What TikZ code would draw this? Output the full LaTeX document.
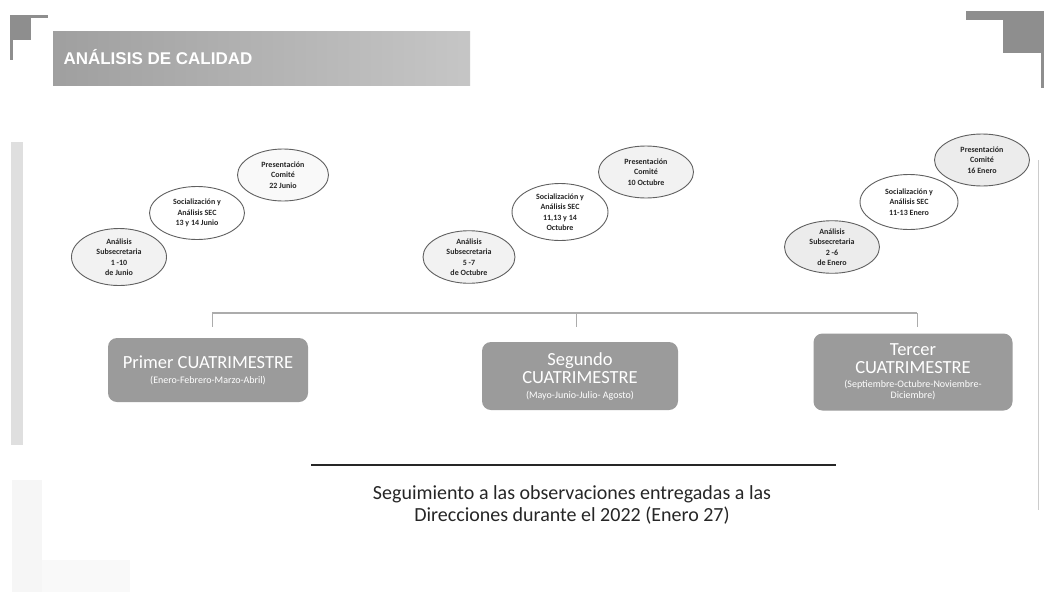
\documentclass[tikz,border=0pt]{standalone}
\usepackage{fontspec}
\setmainfont{Carlito}
\newfontfamily\arialfont{Liberation Sans}
\usetikzlibrary{shapes.geometric}

\definecolor{grisCaja}{HTML}{9B9B9B}
\definecolor{grisMarco}{HTML}{8E8E8E}
\newcommand\mesesfont{\fontsize{10}{11}\selectfont}

\tikzstyle{every node}=[font=\normalsize]
\tikzstyle{elipse}=[ellipse, draw=gray!75!black, line width=0.9pt, fill=gray!10, inner sep=0pt, align=center, text=black!85, font=\fontsize{8}{10.5}\selectfont\bfseries]
\tikzstyle{cuatri}=[rectangle, rounded corners=9pt, fill=grisCaja, text=white, align=center, inner sep=0pt, font=\fontsize{18.5}{18}\selectfont]
\tikzstyle{linea}=[draw=gray!65, line width=1.5pt]

\begin{document}
\begin{tikzpicture}[x=1pt, y=-1pt]
    \useasboundingbox[fill=white] (0,0) rectangle (1044,592);

    % marcos de las esquinas
    \fill[grisMarco] (10,15) rectangle (48,18);
    \fill[grisMarco] (10,15) rectangle (31,40);
    \fill[grisMarco] (10,15) rectangle (13,60);
    \fill[grisMarco] (966,11) rectangle (1044,20);
    \fill[grisMarco] (1003,11) rectangle (1044,53);
    \fill[grisMarco] (1041,11) rectangle (1044,88);
    \fill[gray!25] (11,142) rectangle (23,445);
    \fill[gray!7] (12,480) rectangle (42,592);
    \fill[gray!5] (42,560) rectangle (130,592);
    \draw[gray!40, line width=0.6pt] (1038,160) -- (1038,510);

    % titulo
    \shade[left color=gray!75, right color=gray!45] (53,31) rectangle (470,85);
    \node[anchor=west, text=white, font=\arialfont\fontsize{17}{19}\selectfont\bfseries] (titulo) at (60,57) {ANÁLISIS DE CALIDAD};

    % primer cuatrimestre
    \node[elipse, minimum width=95pt, minimum height=57pt] (a1) at (119,257) {Análisis\\Subsecretaria\\1 -10\\de Junio};
    \node[elipse, minimum width=95pt, minimum height=53pt, fill=white] (b1) at (197,213) {Socialización y\\Análisis SEC\\13 y 14 Junio};
    \node[elipse, minimum width=91pt, minimum height=52pt, fill=gray!5] (c1) at (283,175) {Presentación\\Comité\\22 Junio};

    % segundo cuatrimestre
    \node[elipse, minimum width=92pt, minimum height=50pt] (a2) at (469,257) {Análisis\\Subsecretaria\\5 -7\\de Octubre};
    \node[elipse, minimum width=96pt, minimum height=57pt, fill=white] (b2) at (560,212) {Socialización y\\Análisis SEC\\11,13 y 14\\Octubre};
    \node[elipse, minimum width=95pt, minimum height=52pt] (c2) at (646,172) {Presentación\\Comité\\10 Octubre};

    % tercer cuatrimestre
    \node[elipse, minimum width=95pt, minimum height=52pt, fill=gray!15] (a3) at (832,247) {Análisis\\Subsecretaria\\2 -6\\de Enero};
    \node[elipse, minimum width=98pt, minimum height=55pt, fill=white] (b3) at (909,202) {Socialización y\\Análisis SEC\\11-13 Enero};
    \node[elipse, minimum width=95pt, minimum height=52pt, fill=gray!15] (c3) at (982,160) {Presentación\\Comité\\16 Enero};

    % linea de tiempo
    \coordinate (t1) at (212,313);
    \coordinate (t2) at (576,313);
    \coordinate (t3) at (917,313);
    \draw[linea] (t1) -- (t3);
    \foreach \t in {t1,t2,t3}
        \draw[linea, line width=1pt] (\t) -- ++(0,14);

    % cajas de los cuatrimestres
    \node[cuatri, minimum width=200pt, minimum height=64pt] (p1) at (208,370) {Primer CUATRIMESTRE\\[-3pt]{\mesesfont (Enero-Febrero-Marzo-Abril)}};
    \node[cuatri, minimum width=196pt, minimum height=68pt] (p2) at (580,376) {Segundo\\CUATRIMESTRE\\[-3pt]{\mesesfont (Mayo-Junio-Julio- Agosto)}};
    \node[cuatri, minimum width=199pt, minimum height=77pt] (p3) at (913,372) {Tercer\\CUATRIMESTRE\\[-4pt]{\mesesfont (Septiembre-Octubre-Noviembre-}\\[-7pt]{\mesesfont Diciembre)}};

    % nota final
    \draw[black!85, line width=2.5pt] (311,465) -- (836,465);
    \node[align=center, text=black!85, font=\fontsize{20}{22}\selectfont] (nota) at (572,505) {Seguimiento a las observaciones entregadas a las\\Direcciones durante el 2022 (Enero 27)};
\end{tikzpicture}
\end{document}
